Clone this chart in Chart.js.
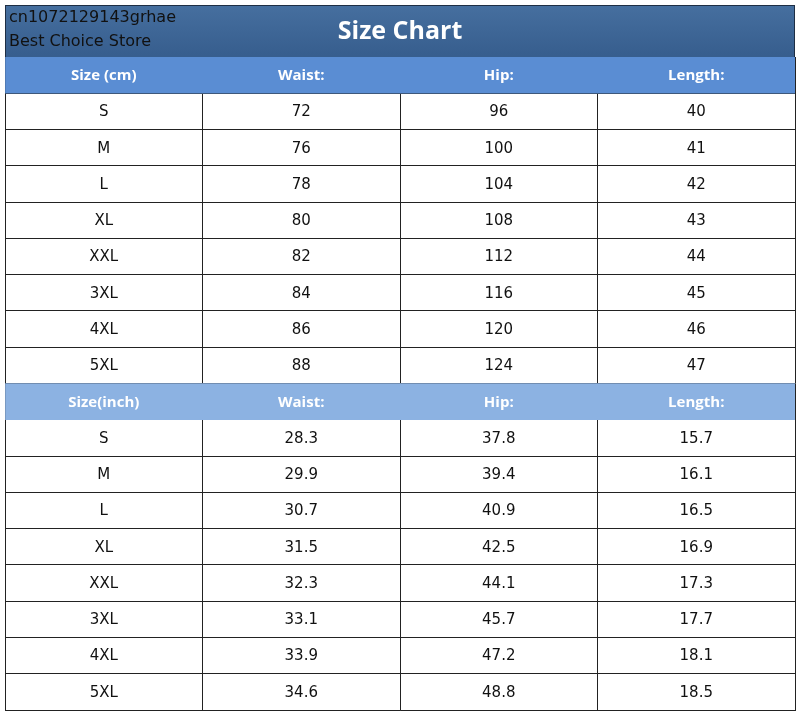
<!DOCTYPE html>
<html><head><meta charset="utf-8">
<script src="https://cdn.jsdelivr.net/npm/chart.js@4"></script>
<style>html,body{margin:0;padding:0;background:#fff}#c{display:block}</style>
</head><body>
<div style="width:800px;height:716px"><canvas id="c" width="800" height="716"></canvas></div>
<script>
const title = "Size Chart";
const storeLines = ["cn1072129143grhae", "Best Choice Store"];
const headerCm = ["Size (cm)", "Waist:", "Hip:", "Length:"];
const headerIn = ["Size(inch)", "Waist:", "Hip:", "Length:"];
const sizes = ["S", "M", "L", "XL", "XXL", "3XL", "4XL", "5XL"];
const waistCm = [72, 76, 78, 80, 82, 84, 86, 88];
const hipCm = [96, 100, 104, 108, 112, 116, 120, 124];
const lengthCm = [40, 41, 42, 43, 44, 45, 46, 47];
const waistIn = ["28.3", "29.9", "30.7", "31.5", "32.3", "33.1", "33.9", "34.6"];
const hipIn = ["37.8", "39.4", "40.9", "42.5", "44.1", "45.7", "47.2", "48.8"];
const lengthIn = ["15.7", "16.1", "16.5", "16.9", "17.3", "17.7", "18.1", "18.5"];

const rows = [];
rows.push({h:1, cells: headerCm});
sizes.forEach((s,i)=>rows.push({h:0, cells:[s, String(waistCm[i]), String(hipCm[i]), String(lengthCm[i])]}));
rows.push({h:2, cells: headerIn});
sizes.forEach((s,i)=>rows.push({h:0, cells:[s, waistIn[i], hipIn[i], lengthIn[i]]}));
const rowLabels = rows.map((r,i)=>"r"+i);
const cols = headerCm.length;

const textPlugin = {
  id:'tbl',
  beforeDraw(chart){
    const {ctx, chartArea:a} = chart;
    ctx.save();
    const g = ctx.createLinearGradient(0,5,0,55);
    g.addColorStop(0,'#466f9f'); g.addColorStop(1,'#375e8e');
    ctx.fillStyle = g; ctx.fillRect(a.left, 5, a.right-a.left, a.top-5);
    ctx.strokeStyle='#1e2e44'; ctx.lineWidth=1;
    ctx.strokeRect(a.left+0.5, 5.5, a.right-a.left-1, a.top-5);
    ctx.fillStyle='#fff'; ctx.font='bold 25px "Open Sans", sans-serif';
    ctx.textAlign='center'; ctx.textBaseline='middle';
    ctx.fillText(title, (a.left+a.right)/2, 32);
    ctx.fillStyle='#111'; ctx.font='16px "DejaVu Sans", sans-serif'; ctx.textAlign='left';
    ctx.fillText(storeLines[0], 9, 18);
    ctx.fillText(storeLines[1], 9, 42);
    ctx.restore();
  },
  afterDraw(chart){
    const {ctx, scales:{x,y}} = chart;
    ctx.save(); ctx.textAlign='center'; ctx.textBaseline='middle';
    rows.forEach((r,i)=>{
      const py = y.getPixelForValue(i);
      r.cells.forEach((t,j)=>{
        const px = x.getPixelForValue(j+0.5);
        if(r.h){ ctx.fillStyle='#fff'; ctx.font='bold 15px "Open Sans", sans-serif'; }
        else { ctx.fillStyle='#111'; ctx.font='15px "DejaVu Sans", sans-serif'; }
        ctx.fillText(t, px, py+1);
      });
    });
    ctx.restore();
  }
};

new Chart(document.getElementById('c'), {
  type:'bar',
  data:{labels:rowLabels, datasets:[{
    data: rows.map(r=>r.h?[0,cols]:null),
    backgroundColor: rows.map(r=>r.h===1?'#5a8dd3':'#8cb2e2'),
    barPercentage:1, categoryPercentage:1, borderWidth:0
  }]},
  options:{
    indexAxis:'y', responsive:false, animation:false,
    layout:{padding:{left:5,right:5,top:57,bottom:6}},
    plugins:{legend:{display:false}, tooltip:{enabled:false}},
    scales:{
      x:{type:'linear', min:0, max:cols, display:true,
        ticks:{display:false, stepSize:1}, grid:{color:'#222', lineWidth:1, drawTicks:false},
        border:{display:true, color:'#222'}},
      y:{type:'category', offset:true, display:true,
        ticks:{display:false}, grid:{color:'#222', lineWidth:1, drawTicks:false, offset:true},
        border:{display:true, color:'#222'}}
    }
  },
  plugins:[textPlugin]
});
</script>
</body></html>
